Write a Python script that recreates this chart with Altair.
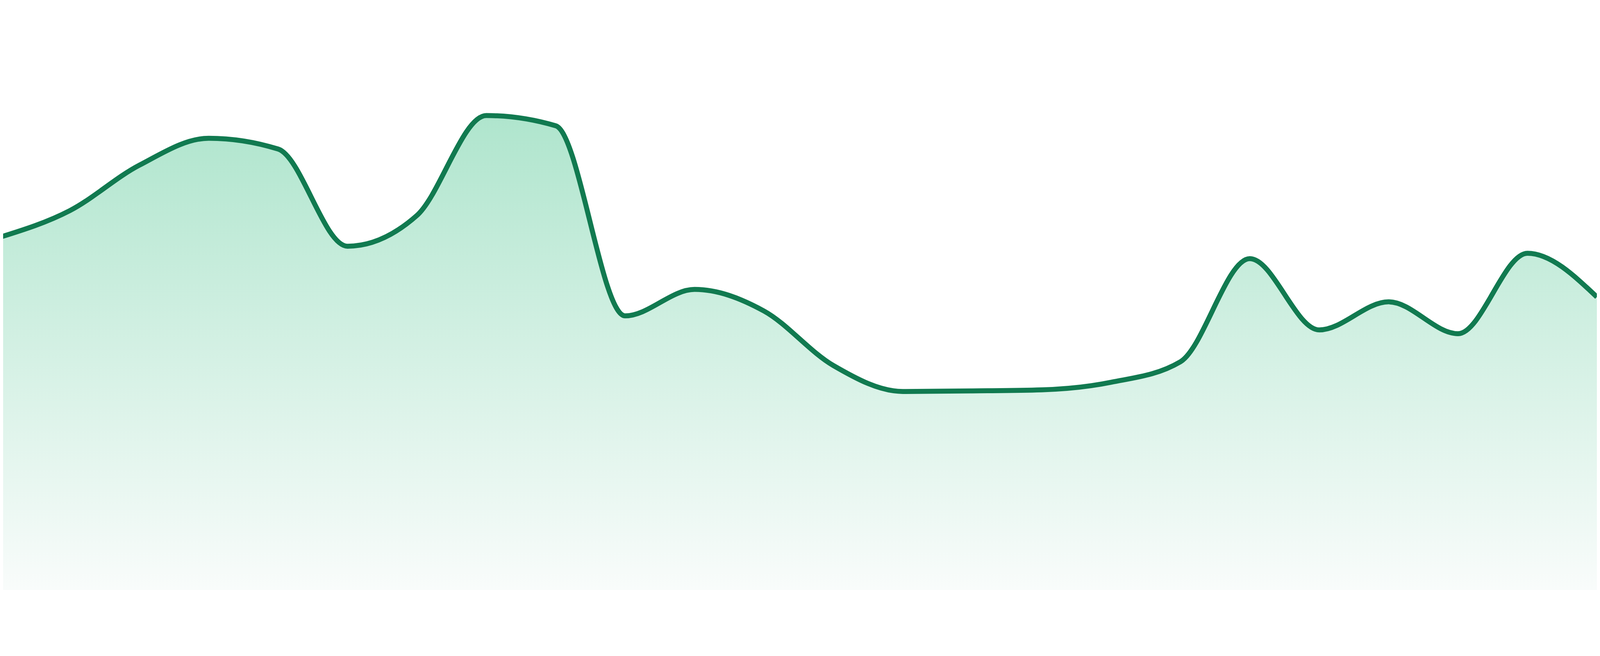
import altair as alt
import pandas as pd

# Data (index along x, value on a 0-100 scale)
idx = list(range(24))
values = [65.4, 70.3, 78.7, 83.7, 81.7, 63.7, 69.4, 87.9, 86.0, 50.8, 55.7, 51.7,
          41.6, 36.8, 36.9, 37.1, 38.5, 42.3, 61.4, 48.2, 53.4, 47.5, 62.4, 54.3]

df = pd.DataFrame({"i": idx, "v": values})

x_enc = alt.X("i:Q", axis=None,
              scale=alt.Scale(domain=[8 / (4800 / 23), 23], nice=False, zero=False))
y_enc = alt.Y("v:Q", axis=None, scale=alt.Scale(domain=[0, 100], nice=False))

area = alt.Chart(df).mark_area(
    interpolate="monotone",
    clip=True,
    line=False,
    color=alt.Gradient(
        gradient="linear",
        stops=[alt.GradientStop(color="#afe5cd", offset=0),
               alt.GradientStop(color="#f9fcfb", offset=1)],
        x1=0, x2=0, y1=0, y2=1,
    ),
).encode(x=x_enc, y=y_enc)

line = alt.Chart(df).mark_line(
    interpolate="monotone",
    clip=True,
    color="#117a50",
    strokeWidth=15,
).encode(x=x_enc, y=y_enc)

chart = alt.layer(area, line).properties(
    width=4792, height=1624, padding=0, background="white"
).configure_view(strokeWidth=0)

chart.save("out.html", embed_options={"renderer": "svg", "actions": False})
